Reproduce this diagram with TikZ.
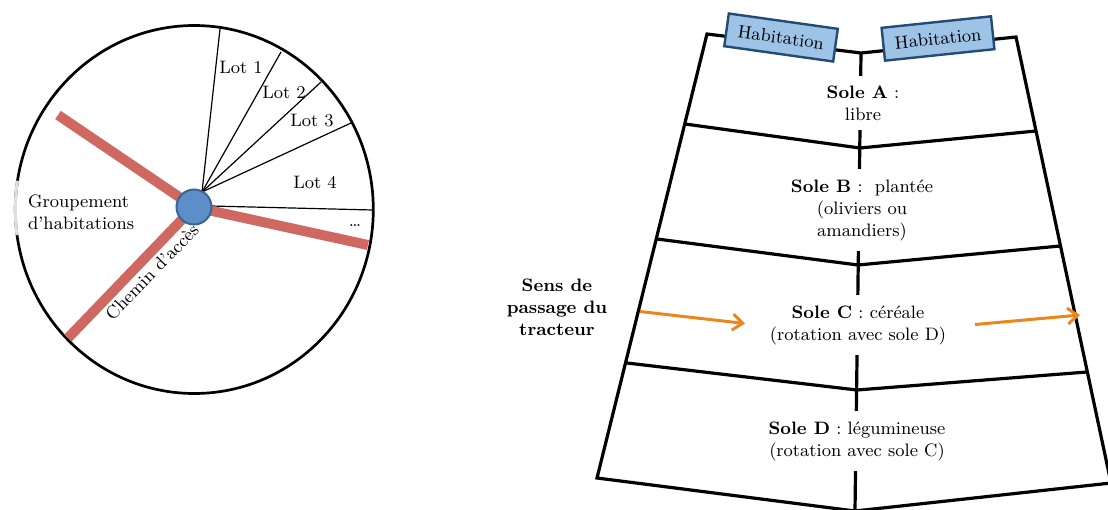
\documentclass[tikz,border=0pt]{standalone}
\usepackage{tikz}
\usetikzlibrary{arrows.meta,positioning,calc}
\definecolor{chemin}{RGB}{206,104,96}
\definecolor{hubfill}{RGB}{92,142,200}
\definecolor{hubdraw}{RGB}{60,100,145}
\definecolor{habfill}{RGB}{157,195,230}
\definecolor{habdraw}{RGB}{35,75,115}
\definecolor{tract}{RGB}{236,134,28}
\tikzset{
  lotline/.style={line width=0.6pt},
  route/.style={draw=chemin, line width=5pt},
  hub/.style={circle, draw=hubdraw, fill=hubfill, line width=1pt, minimum size=17.5pt, inner sep=0pt},
  bord/.style={line width=1.6pt},
  habbox/.style={rectangle, draw=habdraw, fill=habfill, line width=1.2pt,
                 minimum width=55pt, minimum height=16.5pt, inner sep=0pt, rotate=#1},
  sole/.style={fill=white, align=center, inner xsep=2pt, inner ysep=5pt},
  sens/.style={-{Straight Barb[length=5pt,width=8pt]}, draw=tract, line width=1.5pt},
}

\begin{document}
\begin{tikzpicture}[x=0.5pt, y=-0.5pt, font=\fontsize{9}{11}\selectfont]
    \useasboundingbox (0,0) rectangle (1108,509);
    % parcellaire circulaire
    \coordinate (c) at (194.3,209.5);
    \draw[line width=1.35pt] (c) ellipse [x radius=179, y radius=184];
    \draw[gray!25, line width=1.5pt] (c) ++(172:179 and 184) arc[start angle=172, end angle=189, x radius=179, y radius=184];
    \coordinate (o) at (202,192);
    \foreach \x/\y in {220/29, 281/52, 321/82, 351/123} \draw[lotline] (o) -- (\x,\y);
    \draw[lotline] (211,206) -- (373,210);
    \coordinate (h) at (194,207);
    \coordinate (r1) at (58,115); \coordinate (r2) at (68,338); \coordinate (r3) at (368,245);
    \draw[route] (r1) -- (h); \draw[route] (r2) -- (h); \draw[route] (h) -- (r3);
    \node[hub] (hubn) at (h) {};
    \node (lot1) at (241,67) {Lot 1};
    \node (lot2) at (284,92) {Lot 2};
    \node (lot3) at (312,121) {Lot 3};
    \node (lot4) at (315,182) {Lot 4};
    \node (lotn) at (355,226) {\dots};
    \node[align=left, anchor=west] (grp) at (21,212) {Groupement\\d'habitations};
    \node[rotate=46] (acces) at (152,272) {Chemin d'accès};
    % soles
    \coordinate (tl) at (707,34);  \coordinate (tm) at (861,53);  \coordinate (tr) at (1016,37);
    \coordinate (s1l) at (685,124); \coordinate (s1m) at (860,148); \coordinate (s1r) at (1036,131);
    \coordinate (s2l) at (657,239); \coordinate (s2m) at (858,265); \coordinate (s2r) at (1060,246);
    \coordinate (s3l) at (627,363); \coordinate (s3m) at (857,390); \coordinate (s3r) at (1087,372);
    \coordinate (bl) at (597,478); \coordinate (bm) at (855,511); \coordinate (br) at (1111,483);
    \draw[bord] (tl) -- (bl) -- (bm) -- (br) -- (tr) -- (tm) -- cycle;
    \foreach \i in {1,2,3} \draw[bord] (s\i l) -- (s\i m) -- (s\i r);
    \draw[bord] (tm) -- (bm);
    \node[sole] (solea) at (863,103) {\textbf{Sole A} :\\libre};
    \node[sole] (soleb) at (862,210) {\textbf{Sole B} :~ plantée\\(oliviers ou\\amandiers)};
    \node[sole] (solec) at (858,325) {\textbf{Sole C} : céréale\\(rotation avec sole D)};
    \node[sole] (soled) at (857,441) {\textbf{Sole D} : légumineuse\\(rotation avec sole C)};
    \node[habbox=-8] (hab1) at (781,37.5) {Habitation};
    \node[habbox=6] (hab2) at (938,38.5) {Habitation};
    \node[align=center, font=\fontsize{9}{11}\selectfont\bfseries] (tracteur) at (557,307) {Sens de\\passage du\\tracteur};
    \coordinate (t1a) at (640,311.5); \coordinate (t1b) at (745,323.5);
    \coordinate (t2a) at (975,324.5); \coordinate (t2b) at (1080,315);
    \draw[sens] (t1a) -- (t1b); \draw[sens] (t2a) -- (t2b);
\end{tikzpicture}
\end{document}
